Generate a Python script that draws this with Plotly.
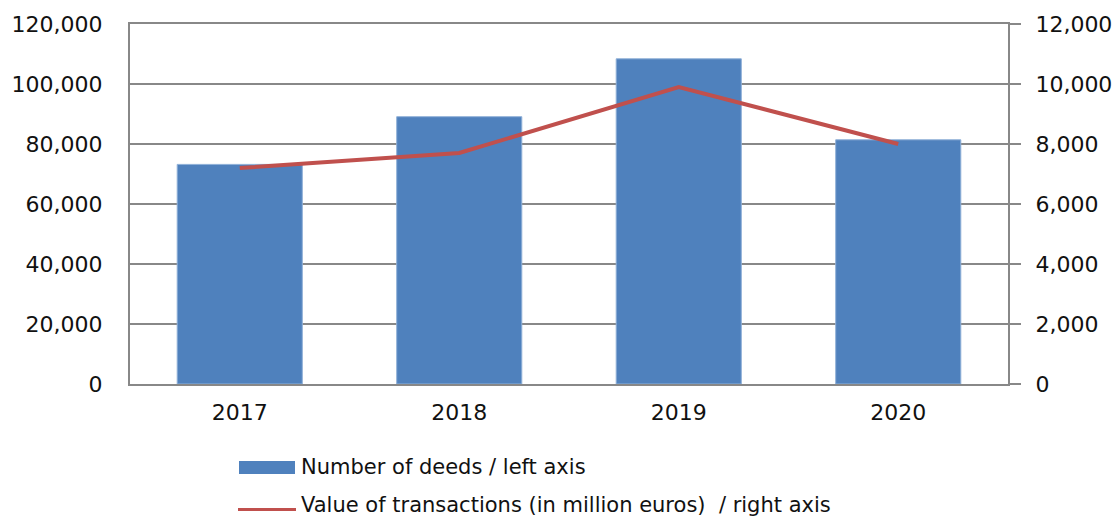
import plotly.graph_objects as go

# Annual series
years = ["2017", "2018", "2019", "2020"]
deeds = [73200, 89100, 108400, 81400]          # number of deeds (left axis)
value_meur = [7200, 7700, 9900, 8000]           # value of transactions, million euros (right axis)

left_ticks = [0, 20000, 40000, 60000, 80000, 100000, 120000]
right_ticks = [0, 2000, 4000, 6000, 8000, 10000, 12000]

legend_labels = ["Number of deeds / left axis",
                 "Value of transactions (in million euros)  / right axis"]

BAR_COLOR = "#4F81BD"
LINE_COLOR = "#C0504D"
GRID = "#888888"
FONT = "DejaVu Sans"
FS = 22
LEG_FS = 21

W, H = 1119, 519
L, R, T, B = 130, 111, 24, 135
PW, PH = W - L - R, H - T - B


def px_x(x):
    return (x - L) / PW


def px_y(y):
    return (H - B - y) / PH


fig = go.Figure()
fig.add_trace(go.Bar(
    x=years, y=deeds, name=legend_labels[0],
    marker=dict(color=BAR_COLOR, line=dict(color="#8FB0D8", width=1)),
    width=0.57, showlegend=False,
))
fig.add_trace(go.Scatter(
    x=years, y=value_meur, name=legend_labels[1], yaxis="y2",
    mode="lines", line=dict(color=LINE_COLOR, width=4),
    showlegend=False,
))

fig.update_layout(
    width=W, height=H,
    margin=dict(l=L, r=R, t=T, b=B, pad=0, autoexpand=False),
    paper_bgcolor="white", plot_bgcolor="white",
    font=dict(family=FONT, size=FS, color="#111111"),
    xaxis=dict(
        type="category", showline=True, mirror=True, linecolor=GRID, linewidth=2,
        showgrid=False, ticks="", ticklabelstandoff=8, automargin=False,
        tickfont=dict(family=FONT, size=FS),
    ),
    yaxis=dict(
        range=[0, 120000], tickvals=left_ticks, tickformat=",",
        showline=True, linecolor=GRID, linewidth=2,
        showgrid=True, gridcolor=GRID, gridwidth=1.5,
        ticks="", ticklabelstandoff=21, zeroline=False, automargin=False,
        tickfont=dict(family=FONT, size=FS),
    ),
    yaxis2=dict(
        range=[0, 12000], tickvals=right_ticks, tickformat=",",
        overlaying="y", side="right",
        showline=True, linecolor=GRID, linewidth=2,
        showgrid=False, ticks="outside", ticklen=11, tickcolor=GRID, tickwidth=1.5,
        ticklabelstandoff=10, zeroline=False, automargin=False,
        tickfont=dict(family=FONT, size=FS),
    ),
)

# Legend below the plot: wide bar swatch and line swatch with labels
fig.add_shape(type="rect", xref="paper", yref="paper",
              x0=px_x(239), x1=px_x(295), y0=px_y(474), y1=px_y(461),
              fillcolor=BAR_COLOR, line=dict(width=0))
fig.add_shape(type="line", xref="paper", yref="paper",
              x0=px_x(238), x1=px_x(296), y0=px_y(509.5), y1=px_y(509.5),
              line=dict(color=LINE_COLOR, width=3))
fig.add_annotation(text=legend_labels[0], xref="paper", yref="paper",
                   x=px_x(299), y=px_y(467), xanchor="left", yanchor="middle",
                   showarrow=False, font=dict(family=FONT, size=LEG_FS, color="#111111"))
fig.add_annotation(text=legend_labels[1], xref="paper", yref="paper",
                   x=px_x(299), y=px_y(505.5), xanchor="left", yanchor="middle",
                   showarrow=False, font=dict(family=FONT, size=LEG_FS, color="#111111"))

fig.write_html("out.html")
